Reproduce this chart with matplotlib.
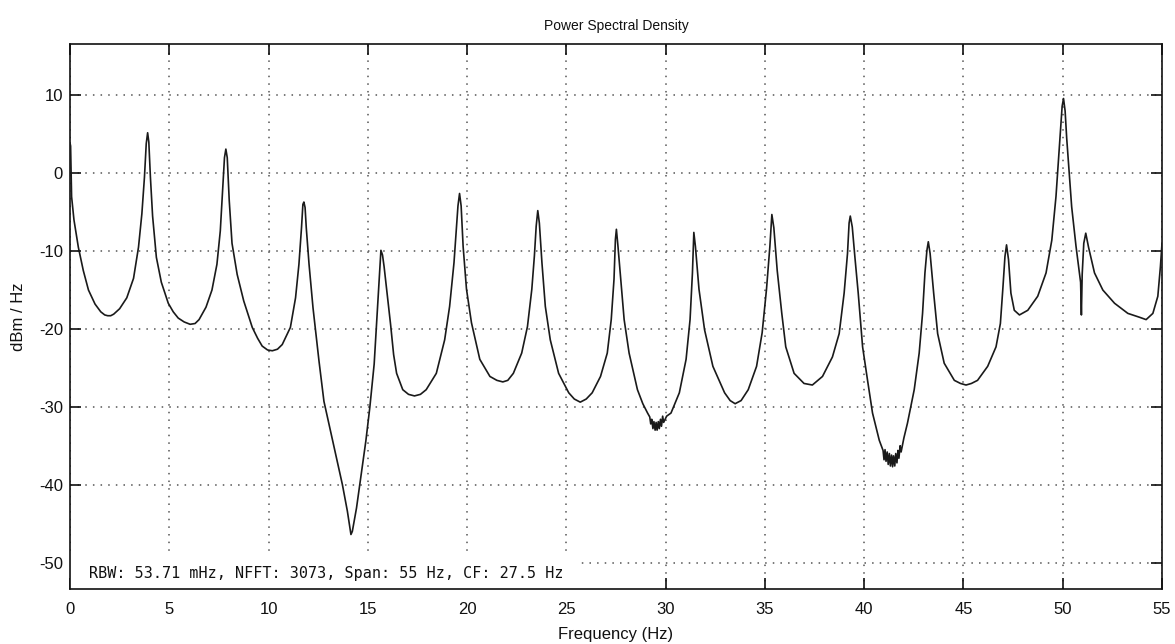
import matplotlib
matplotlib.use("Agg")
import matplotlib.pyplot as plt
from matplotlib.patches import Rectangle

plt.rcParams["axes.unicode_minus"] = False

# ---- data ----
freq_hz = [
    0.00, 0.03, 0.08, 0.20, 0.42, 0.67, 0.93, 1.26, 1.55, 1.75, 1.90, 2.05, 2.20, 2.50, 2.86, 3.20, 3.45, 3.62, 3.75, 3.84, 3.91, 3.97,
    4.05, 4.16, 4.35, 4.60, 4.95, 5.20, 5.45, 5.75, 6.05, 6.30, 6.50, 6.85, 7.15, 7.40, 7.57, 7.69, 7.78, 7.85, 7.92,
    8.02, 8.16, 8.42, 8.75, 9.18, 9.45, 9.68, 9.95, 10.19, 10.45, 10.69, 11.10, 11.36, 11.53, 11.66, 11.73, 11.78, 11.84, 11.90,
    12.04, 12.24, 12.54, 12.79, 13.05, 13.38, 13.72, 13.97, 14.15, 14.22, 14.43, 14.65, 14.90, 15.10, 15.32, 15.49,
    15.60, 15.66, 15.74, 15.82, 15.99, 16.15, 16.30, 16.45, 16.76, 17.05, 17.35, 17.65, 17.94, 18.45, 18.87, 19.12, 19.34, 19.46,
    19.54, 19.62, 19.70, 19.80, 19.97, 20.22, 20.64, 21.15, 21.50, 21.80, 22.05, 22.33, 22.75, 23.04, 23.26, 23.39, 23.48, 23.56,
    23.64, 23.77, 23.94, 24.19, 24.61, 25.12, 25.40, 25.70, 26.00, 26.30, 26.72, 27.06, 27.26, 27.40, 27.47, 27.52, 27.60, 27.74,
    27.91, 28.16, 28.58, 28.85, 29.09, 29.20, 29.25, 29.30, 29.36, 29.41, 29.47, 29.52, 29.57, 29.63, 29.68, 29.74, 29.79, 29.85, 29.90,
    30.05, 30.27, 30.69, 31.03, 31.23, 31.35, 31.42, 31.50, 31.68, 31.96, 32.38,
    32.97, 33.25, 33.50, 33.80, 34.16, 34.58, 34.86, 35.08, 35.25, 35.35, 35.45, 35.62, 35.85, 36.05, 36.47, 36.97, 37.39, 37.90,
    38.40, 38.74, 38.99, 39.16, 39.24, 39.30, 39.40, 39.53, 39.70, 39.92, 40.17, 40.42, 40.76, 40.95, 41.00, 41.05, 41.10, 41.16,
    41.21, 41.27, 41.32, 41.38, 41.43, 41.48, 41.54, 41.59, 41.65, 41.70, 41.75, 41.81, 41.86, 42.00, 42.18,
    42.52, 42.77, 42.94, 43.06, 43.16, 43.23, 43.32, 43.50, 43.70, 44.03, 44.54, 44.85, 45.13, 45.40, 45.71, 46.22, 46.64,
    46.86, 46.99, 47.09, 47.17, 47.27, 47.39, 47.56, 47.82, 48.24, 48.74, 49.16, 49.45, 49.66, 49.83, 49.97, 50.04,
    50.12, 50.20, 50.29, 50.45, 50.67, 50.84, 50.90, 50.94, 50.98, 51.06, 51.16, 51.30, 51.60, 52.02, 52.61, 53.28,
    53.87, 54.20, 54.54, 54.79, 54.92, 55.00,
]
psd_dbm_hz = [
    3.9, 3.5, -3.0, -6.0, -9.5, -12.5, -15.0, -16.8, -17.8, -18.2, -18.3, -18.3, -18.1, -17.4, -16.0, -13.5, -9.5, -5.2, -0.5, 3.8, 5.2, 4.0,
    -0.5, -5.5, -10.8, -14.0, -16.7, -17.8, -18.6, -19.1, -19.4, -19.3, -18.8, -17.2, -15.0, -11.7, -7.4, -2.0, 2.0, 3.1, 2.0,
    -3.5, -9.0, -13.0, -16.4, -19.8, -21.2, -22.2, -22.7, -22.8, -22.6, -22.0, -19.8, -16.0, -11.7, -7.0, -4.0, -3.7, -4.4, -7.0,
    -11.7, -17.3, -24.1, -29.3, -32.3, -36.1, -40.0, -43.4, -46.4, -46.0, -43.0, -39.0, -34.4, -30.1, -24.5, -17.3,
    -12.5, -9.9, -10.5, -12.0, -15.8, -19.5, -23.3, -25.7, -27.8, -28.4, -28.6, -28.4, -27.8, -25.7, -21.4, -17.1, -11.5, -7.2,
    -4.2, -2.6, -4.2, -9.4, -14.9, -19.2, -23.9, -26.1, -26.6, -26.8, -26.6, -25.7, -23.1, -19.7, -14.9, -10.6, -6.8, -4.8,
    -6.4, -11.5, -17.1, -21.4, -25.7, -28.2, -29.0, -29.4, -29.0, -28.2, -26.1, -23.1, -18.8, -13.6, -8.5, -7.2, -9.4, -13.6,
    -18.8, -23.1, -27.8, -29.6, -30.8, -31.3, -32.2, -31.6, -32.8, -31.9, -33.0, -32.0, -33.0, -31.9, -32.8, -31.6, -32.5, -31.2, -32.0,
    -31.2, -30.8, -28.2, -23.9, -18.8, -12.8, -7.6, -9.4, -14.9, -20.1, -24.8,
    -28.2, -29.2, -29.6, -29.2, -27.8, -24.8, -20.5, -14.9, -9.4, -5.3, -7.0, -12.5, -18.0, -22.3, -25.7, -27.0, -27.2, -26.1,
    -23.6, -20.6, -15.4, -10.3, -6.4, -5.5, -6.9, -10.7, -15.4, -22.3, -26.6, -30.8, -34.3, -35.6, -36.8, -35.5, -37.0, -35.8,
    -37.4, -36.0, -37.6, -36.2, -37.7, -36.3, -37.6, -36.0, -37.2, -35.6, -36.6, -35.0, -35.8, -34.0, -32.1,
    -27.8, -23.1, -18.0, -12.8, -9.9, -8.8, -10.3, -15.4, -20.6, -24.4, -26.6, -27.0, -27.2, -27.0, -26.6, -24.8, -22.3,
    -19.3, -14.6, -10.7, -9.2, -11.1, -15.4, -17.6, -18.2, -17.6, -15.8, -12.8, -8.6, -3.0, 3.4, 8.6, 9.6,
    8.0, 4.5, 1.3, -4.3, -9.4, -12.8, -14.0, -18.2, -13.0, -9.0, -7.7, -9.5, -12.8, -15.0, -16.7, -18.0,
    -18.5, -18.8, -18.0, -15.8, -12.0, -9.0,
]
x_ticks = [0, 5, 10, 15, 20, 25, 30, 35, 40, 45, 50, 55]
y_ticks = [-50, -40, -30, -20, -10, 0, 10]
title = "Power Spectral Density"
x_label = "Frequency (Hz)"
y_label = "dBm / Hz"
info_text = "RBW: 53.71 mHz, NFFT: 3073, Span: 55 Hz, CF: 27.5 Hz"

# ---- figure ----
fig = plt.figure(figsize=(11.75, 6.44), dpi=100)
ax = fig.add_axes([70 / 1175, 1 - 589 / 644, 1092 / 1175, 545 / 644])

ax.plot(freq_hz, psd_dbm_hz, color="#1a1a1a", lw=1.2, zorder=3)

ax.set_xlim(0, 55)
ax.set_ylim(-53.4, 16.6)
ax.set_xticks(x_ticks)
ax.set_yticks(y_ticks)

sans = "Liberation Sans"
for lab in ax.get_xticklabels() + ax.get_yticklabels():
    lab.set_fontfamily(sans)
ax.tick_params(axis="both", direction="in", length=8, width=1.2, labelsize=12,
               top=True, right=True, colors="#111111")
ax.tick_params(axis="x", pad=9)
ax.tick_params(axis="y", pad=5)
for s in ax.spines.values():
    s.set_linewidth(1.2)
    s.set_color("#111111")

ax.grid(True, linestyle=(0, (1, 4)), color="#555555", linewidth=1.1, zorder=1)

# white box behind annotation text (hides grid)
ax.add_patch(Rectangle((0, -53.4), 25.6, 4.8, facecolor="white", edgecolor="none", zorder=2))
ax.text(0.95, -52.0, info_text, family="DejaVu Sans Mono", fontsize=10.9,
        color="#111111", va="baseline", ha="left", zorder=4)

ax.set_title(title, family=sans, fontsize=10, y=1.026, pad=0, color="#111111")
ax.set_xlabel(x_label, family=sans, fontsize=12, color="#111111")
ax.set_ylabel(y_label, family=sans, fontsize=12, color="#111111")
ax.xaxis.set_label_coords(0.5, -0.070)
ax.yaxis.set_label_coords(-0.040, 0.5)

fig.savefig("out.png", dpi=100)
